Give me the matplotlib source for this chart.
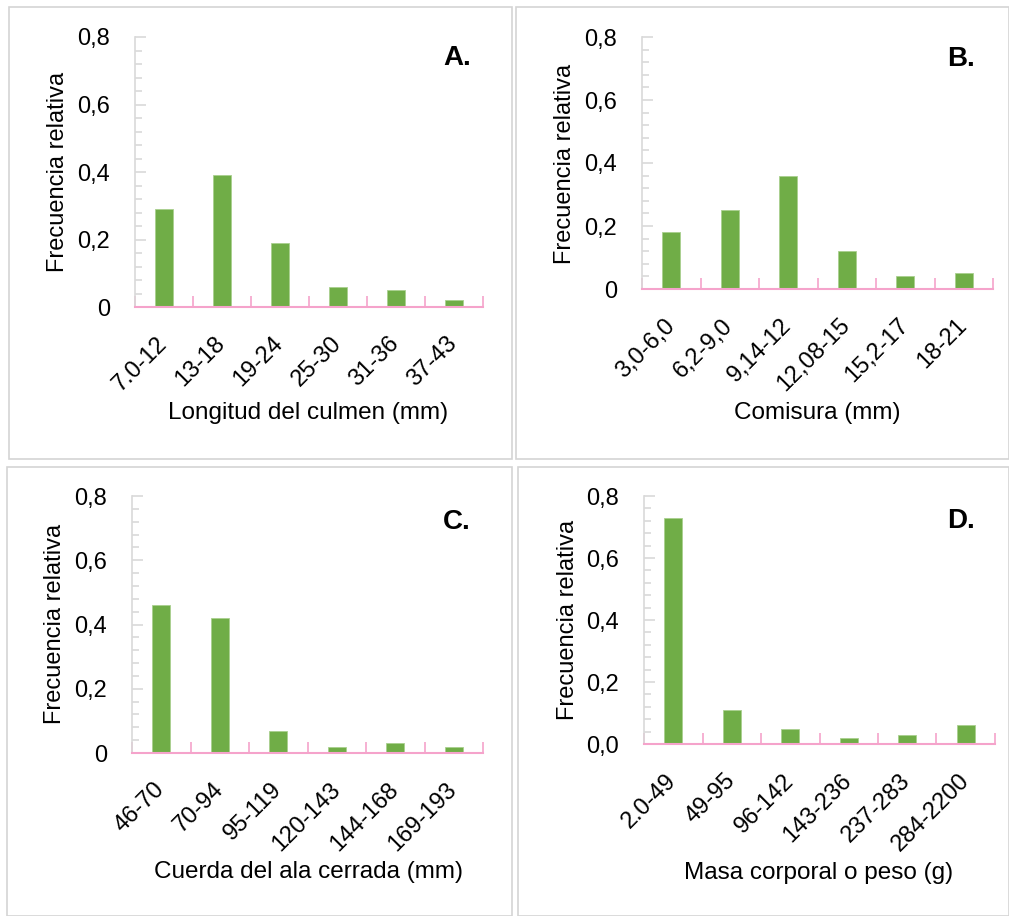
import matplotlib
matplotlib.use("Agg")
import matplotlib.pyplot as plt
from matplotlib.patches import Rectangle
from matplotlib.ticker import MultipleLocator, FixedLocator

plt.rcParams["font.family"] = ["Liberation Sans Narrow", "Liberation Sans", "DejaVu Sans"]

# relative frequencies per size class
culmen_bins = ["7.0-12", "13-18", "19-24", "25-30", "31-36", "37-43"]
culmen_freq = [0.29, 0.39, 0.19, 0.06, 0.05, 0.02]

comisura_bins = ["3,0-6,0", "6,2-9,0", "9,14-12", "12,08-15", "15,2-17", "18-21"]
comisura_freq = [0.18, 0.25, 0.36, 0.12, 0.04, 0.05]

ala_bins = ["46-70", "70-94", "95-119", "120-143", "144-168", "169-193"]
ala_freq = [0.46, 0.42, 0.07, 0.02, 0.03, 0.02]

masa_bins = ["2.0-49", "49-95", "96-142", "143-236", "237-283", "284-2200"]
masa_freq = [0.73, 0.11, 0.05, 0.02, 0.03, 0.06]

W, H = 1009, 916
fig = plt.figure(figsize=(W / 100, H / 100), dpi=100)

GREEN = "#70AD47"
PINK = "#F5A3CB"
GRAY = "#D9D9D9"


def px_axes(x0, y0, x1, y1):
    # axes box given in pixel coordinates (top-left origin)
    return fig.add_axes([x0 / W, 1 - y1 / H, (x1 - x0) / W, (y1 - y0) / H])


def ftext(x, y, s, **kw):
    fig.text(x / W, 1 - y / H, s, **kw)


def panel(box, axbox, bins, freq, xlabel, xlab_pos, ylab_pos, letter, letter_pos, zero_label):
    fig.add_artist(Rectangle((box[0] / W, 1 - box[3] / H), (box[2] - box[0]) / W,
                             (box[3] - box[1]) / H, transform=fig.transFigure,
                             fill=False, edgecolor="#D4D4D4", linewidth=1.2))
    ax = px_axes(*axbox)
    n = len(bins)
    xs = [i + 0.5 for i in range(n)]
    ax.bar(xs, freq, width=0.31, color=GREEN, edgecolor="#A9D08E", linewidth=0.6, zorder=2)
    ax.set_xlim(0, n)
    ax.set_ylim(0, 0.8)

    for s in ("top", "right"):
        ax.spines[s].set_visible(False)
    ax.spines["left"].set_color(GRAY)
    ax.spines["left"].set_linewidth(1.2)
    ax.spines["bottom"].set_color(PINK)
    ax.spines["bottom"].set_linewidth(1.5)
    ax.spines["bottom"].set_zorder(3)

    ax.yaxis.set_minor_locator(MultipleLocator(0.04))
    ylabels = [zero_label, "0,2", "0,4", "0,6", "0,8"]
    ax.set_yticks([0, 0.2, 0.4, 0.6, 0.8])
    ax.set_yticklabels(ylabels, fontsize=17)
    ax.tick_params(axis="y", which="major", direction="in", length=8, width=1.2,
                   color=GRAY, pad=18)
    ax.tick_params(axis="y", which="minor", direction="in", length=5, width=1.2, color=GRAY)

    ax.set_xticks(xs)
    ax.set_xticklabels(bins, rotation=45, ha="right", va="center",
                       rotation_mode="anchor", fontsize=17)
    ax.xaxis.set_minor_locator(FixedLocator(list(range(n + 1))))
    ax.tick_params(axis="x", which="major", length=0, pad=24)
    ax.tick_params(axis="x", which="minor", direction="in", length=8, width=1.2, color=PINK)

    ftext(*xlab_pos, xlabel, ha="center", va="center", fontsize=17.5)
    ftext(*ylab_pos, "Frecuencia relativa", ha="center", va="center", rotation=90, fontsize=17)
    ftext(*letter_pos, letter, ha="center", va="center", fontsize=20, fontweight="bold")
    return ax


panel((9, 7, 512, 459), (135, 37, 483, 307), culmen_bins, culmen_freq,
      "Longitud del culmen (mm)", (308, 413), (58, 172), "A.", (457, 58), "0")
panel((516, 7, 1009, 459), (642, 37, 993, 289), comisura_bins, comisura_freq,
      "Comisura (mm)", (817, 413), (565, 164), "B.", (961, 59), "0")
panel((7, 467, 512, 916), (132, 496, 483, 753), ala_bins, ala_freq,
      "Cuerda del ala cerrada (mm)", (308, 872), (55, 624), "C.", (457, 522), "0")
panel((518, 467, 1009, 916), (644, 496, 995, 744), masa_bins, masa_freq,
      "Masa corporal o peso (g)", (819, 873), (568, 620), "D.", (961, 521), "0,0")

fig.savefig("out.png", dpi=100)
